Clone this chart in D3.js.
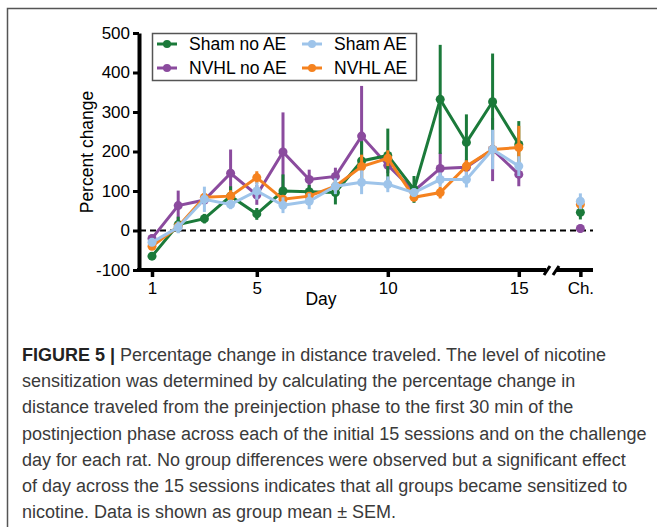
<!DOCTYPE html>
<html>
<head>
<meta charset="utf-8">
<script src="https://cdn.jsdelivr.net/npm/d3@7"></script>
<style>
	body { margin: 0; background: #fff; }
	text { font-family: "Liberation Sans", Arial, sans-serif; }
</style>
</head>
<body>
<div id="chart"></div>
<script>
// Data (percent change, mean and SEM per day)
const days = [1, 2, 3, 4, 5, 6, 7, 8, 9, 10, 11, 12, 13, 14, 15];
const tickDays = [1, 5, 10, 15];
const yTicks = [-100, 0, 100, 200, 300, 400, 500];

const shamNoAE = [-65, 15, 30, 87, 42, 100, 98, 96, 176, 190, 104, 332, 223, 326, 218];
const shamNoAESem = [5, 20, 12, 25, 15, 42, 17, 30, 50, 68, 34, 138, 71, 122, 59];
const shamAE = [-30, 8, 79, 66, 100, 64, 74, 112, 122, 117, 96, 129, 129, 205, 163];
const shamAESem = [8, 15, 32, 12, 22, 20, 20, 20, 30, 20, 10, 18, 20, 50, 25];
const nvhlNoAE = [-20, 63, 77, 145, 90, 199, 129, 137, 239, 165, 100, 157, 160, 205, 142];
const nvhlNoAESem = [10, 38, 12, 60, 25, 100, 25, 22, 127, 20, 15, 40, 20, 80, 30];
const nvhlAE = [-40, 10, 84, 87, 134, 79, 87, 112, 162, 183, 84, 96, 163, 205, 210];
const nvhlAESem = [5, 10, 10, 15, 16, 10, 10, 15, 30, 20, 10, 15, 15, 20, 55];

// challenge day, same order as groups below
const challenge = [46, 74, 5, 66];
const challengeSem = [18, 20, 10, 12];

const groupNames = ["Sham no AE", "Sham AE", "NVHL no AE", "NVHL AE"];
const groupColors = ["#1b7a3a", "#9ec4ea", "#8b4b9e", "#f5821f"];

const caption = [
	"sensitization was determined by calculating the percentage change in",
	"distance traveled from the preinjection phase to the first 30 min of the",
	"postinjection phase across each of the initial 15 sessions and on the challenge",
	"day for each rat. No group differences were observed but a significant effect",
	"of day across the 15 sessions indicates that all groups became sensitized to",
	"nicotine. Data is shown as group mean \u00b1 SEM."
];

// Setup
const width = 657, height = 527;
const chPos = 17.35; // where "Ch." sits on the day scale

const svg = d3.select("#chart")
	.append("svg")
	.attr("width", width)
	.attr("height", height);

svg.append("rect").attr("width", width).attr("height", height).attr("fill", "#fff");

// frame around the figure
svg.append("path")
	.attr("d", "M7.5," + height + "V8.5H" + width)
	.attr("fill", "none")
	.attr("stroke", "#555")
	.attr("stroke-width", 1.5);

const x = d3.scaleLinear().domain([1, 15]).range([152, 518.8]);
const y = d3.scaleLinear().domain([-100, 500]).range([270, 33]);

const series = [
	{ name: groupNames[0], vals: shamNoAE, sem: shamNoAESem, color: groupColors[0] },
	{ name: groupNames[1], vals: shamAE, sem: shamAESem, color: groupColors[1] },
	{ name: groupNames[2], vals: nvhlNoAE, sem: nvhlNoAESem, color: groupColors[2] },
	{ name: groupNames[3], vals: nvhlAE, sem: nvhlAESem, color: groupColors[3] }
];
series.forEach((s, i) => { s.ch = challenge[i]; s.chSem = challengeSem[i]; });

// drawing order: purple, green, orange, light blue
const drawOrder = [2, 0, 3, 1];

// zero line
svg.append("line")
	.attr("x1", 140).attr("x2", 593)
	.attr("y1", y(0)).attr("y2", y(0))
	.attr("stroke", "#000")
	.attr("stroke-width", 2)
	.attr("stroke-dasharray", "6,4");

// Y axis
const yAxis = svg.append("g")
	.attr("transform", "translate(139,0)")
	.call(d3.axisLeft(y).tickValues(yTicks).tickFormat(d => String(d))
		.tickSize(6).tickSizeOuter(0).tickPadding(3));
yAxis.select(".domain").attr("stroke-width", 4);
yAxis.selectAll(".tick line").attr("stroke-width", 3);
yAxis.selectAll("text").attr("font-size", 17).attr("fill", "#000");

svg.append("text")
	.attr("transform", "translate(93,152) rotate(-90)")
	.attr("text-anchor", "middle")
	.attr("font-size", 17.5)
	.text("Percent change");

// X axis with a break before the challenge day
const xAxisY = 270;
const xAxis = svg.append("g")
	.attr("transform", "translate(0," + xAxisY + ")")
	.call(d3.axisBottom(x)
		.tickValues(tickDays.concat([chPos]))
		.tickFormat(d => d === chPos ? "Ch." : d)
		.tickSize(7)
		.tickPadding(5));
xAxis.select(".domain").remove();
xAxis.selectAll(".tick line").attr("stroke-width", 3.5);
xAxis.selectAll("text").attr("font-size", 17).attr("fill", "#000");

svg.append("path")
	.attr("d", "M137," + xAxisY + "H546 M556," + xAxisY + "H593")
	.attr("stroke", "#000")
	.attr("stroke-width", 4);
svg.selectAll("line.brk")
	.data([544, 553])
	.enter()
	.append("line")
	.attr("class", "brk")
	.attr("x1", d => d).attr("x2", d => d + 6)
	.attr("y1", xAxisY + 5).attr("y2", xAxisY - 4)
	.attr("stroke", "#000")
	.attr("stroke-width", 3);

svg.append("text")
	.attr("x", 321).attr("y", 305)
	.attr("text-anchor", "middle")
	.attr("font-size", 17.5)
	.text("Day");

// Series: error bars, lines, markers
const line = d3.line().x((d, i) => x(days[i])).y(d => y(d));

drawOrder.forEach(k => {
	const s = series[k];
	const g = svg.append("g").attr("class", "series");

	g.selectAll("line.err")
		.data(s.vals)
		.enter()
		.append("line")
		.attr("x1", (d, i) => x(days[i]))
		.attr("x2", (d, i) => x(days[i]))
		.attr("y1", (d, i) => y(d - s.sem[i]))
		.attr("y2", (d, i) => y(d + s.sem[i]))
		.attr("stroke", s.color)
		.attr("stroke-width", 3);

	g.append("path")
		.datum(s.vals)
		.attr("d", line)
		.attr("fill", "none")
		.attr("stroke", s.color)
		.attr("stroke-width", 3);

	g.selectAll("circle")
		.data(s.vals)
		.enter()
		.append("circle")
		.attr("cx", (d, i) => x(days[i]))
		.attr("cy", d => y(d))
		.attr("r", 4.5)
		.attr("fill", s.color);

	// challenge day
	g.append("line")
		.attr("x1", x(chPos)).attr("x2", x(chPos))
		.attr("y1", y(s.ch - s.chSem)).attr("y2", y(s.ch + s.chSem))
		.attr("stroke", s.color)
		.attr("stroke-width", 3);
	g.append("circle")
		.attr("cx", x(chPos)).attr("cy", y(s.ch))
		.attr("r", 4.5)
		.attr("fill", s.color);
});

// Legend
const legend = svg.append("g").attr("id", "legend");
legend.append("rect")
	.attr("x", 152.5).attr("y", 33.5)
	.attr("width", 264).attr("height", 47)
	.attr("fill", "#fff")
	.attr("stroke", "#555")
	.attr("stroke-width", 1.5);

const legendPos = [[157, 44], [302, 44], [157, 68], [302, 68]];
const legendEntry = legend.selectAll("g.legend_entry")
	.data(series)
	.enter()
	.append("g")
	.attr("class", "legend_entry")
	.attr("transform", (d, i) => "translate(" + legendPos[i][0] + "," + legendPos[i][1] + ")");

legendEntry.append("line")
	.attr("x1", 0).attr("x2", 20)
	.attr("stroke", d => d.color)
	.attr("stroke-width", 3);
legendEntry.append("circle")
	.attr("cx", 10).attr("r", 4)
	.attr("fill", d => d.color);
legendEntry.append("text")
	.attr("x", 32).attr("dy", "0.35em")
	.attr("font-size", 17.5)
	.text(d => d.name);

// Caption
const cap = svg.append("g").attr("fill", "#3a3a3a").attr("font-size", 18);
const first = cap.append("text").attr("x", 22).attr("y", 361);
first.append("tspan").attr("font-weight", "bold").attr("fill", "#222").text("FIGURE 5 | ");
first.append("tspan").text("Percentage change in distance traveled. The level of nicotine");

cap.selectAll("text.line")
	.data(caption)
	.enter()
	.append("text")
	.attr("class", "line")
	.attr("x", 22)
	.attr("y", (d, i) => 361 + (i + 1) * 26.2)
	.text(d => d);
</script>
</body>
</html>
